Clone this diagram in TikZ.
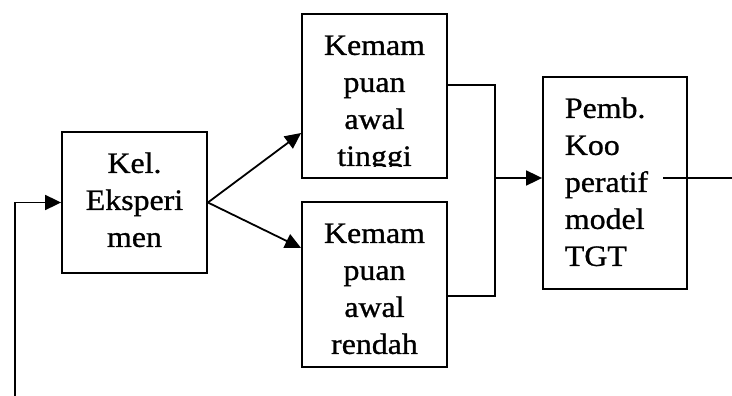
\documentclass[tikz,border=0pt]{standalone}
\usepackage{fontspec}
\setmainfont{Liberation Serif}[FakeStretch=1.08,FakeBold=0.9]
\usetikzlibrary{arrows.meta}
\begin{document}
\begin{tikzpicture}[x=1pt,y=-1pt,
    line width=1.8pt,
    box/.style={draw,line width=1.8pt,rectangle,inner sep=0pt},
    txt/.style={inner sep=0pt,font={\fontsize{29.5}{37}\selectfont}},
    arr/.style={-{Triangle[length=16pt,width=15pt]}}]
  \useasboundingbox (0,0) rectangle (732,396);

  % boxes
  \node[box,minimum width=145pt,minimum height=141pt] (kel)  at (134.5,202.5) {};
  \node[box,minimum width=145pt,minimum height=164pt] (hi)   at (374.5,96) {};
  \node[box,minimum width=145pt,minimum height=165pt] (lo)   at (374.5,284.5) {};
  \node[box,minimum width=144pt,minimum height=212pt] (pemb) at (615,183) {};

  % box texts (first baseline 40pt below the top edge, \rule fixes first line height)
  \node[txt,align=center,anchor=north] (kelt) at (134.5,150)
    {\rule{0pt}{22pt}Kel.\\Eksperi\\men};
  \begin{scope}
    \clip (302,14) rectangle (447,166);
    \node[txt,align=center,anchor=north] (hit) at (374.5,32)
      {\rule{0pt}{22pt}Kemam\\puan\\awal\\tinggi};
  \end{scope}
  \node[txt,align=center,anchor=north] (lot) at (374.5,220)
    {\rule{0pt}{22pt}Kemam\\puan\\awal\\rendah};
  \node[txt,align=left,anchor=north west] (pembt) at (564,95)
    {\rule{0pt}{22pt}Pemb.\\Koo\\peratif\\model\\TGT};

  % connector end points
  \coordinate (in)  at (15,396);
  \coordinate (jt)  at (495,85);
  \coordinate (jb)  at (495,296);
  \coordinate (jm)  at (495,178);
  \coordinate (po)  at (663,178);
  \coordinate (out) at (732,178);

  % connectors
  \draw[arr] (in) |- (kel.west);
  \draw[arr] (kel.east) -- ([yshift=-37pt]hi.west);
  \draw[arr] (kel.east) -- ([yshift=36.5pt]lo.west);
  \draw ([yshift=11pt]hi.east) -- (jt) -- (jb) -- ([yshift=-11.5pt]lo.east);
  \draw[arr] (jm) -- ([yshift=5pt]pemb.west);
  \draw (po) -- (out);
\end{tikzpicture}
\end{document}
